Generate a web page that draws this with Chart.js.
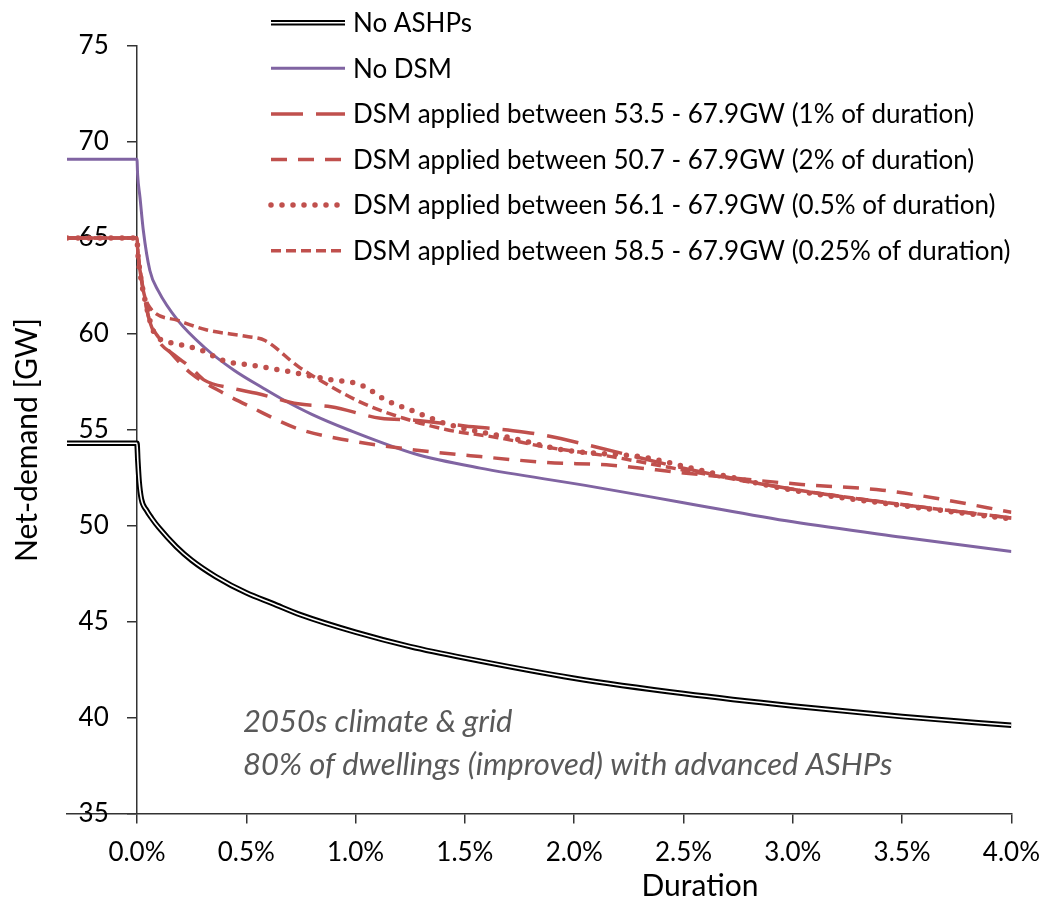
<!DOCTYPE html>
<html>
<head>
<meta charset="utf-8">
<script src="https://cdn.jsdelivr.net/npm/chart.js@4.4.1/dist/chart.umd.min.js"></script>
<style>
  html, body { margin: 0; padding: 0; background: #fff; }
</style>
</head>
<body>
<canvas id="chartCanvas" width="1054" height="904"></canvas>
<script>
// duration in % of the year, net-demand in GW
const xTicks = [0, 0.5, 1.0, 1.5, 2.0, 2.5, 3.0, 3.5, 4.0];

const noAshpDur = [-0.32, 0, 0.004, 0.01, 0.02, 0.044, 0.07, 0.1, 0.18, 0.25, 0.36, 0.5, 0.62, 0.75, 1.0, 1.25, 1.5, 2.0, 2.5, 3.0, 3.5, 4.0];
const noAshpGW  = [54.3, 54.3, 53.4, 52.3, 51.4, 50.8, 50.35, 49.9, 48.9, 48.2, 47.35, 46.5, 45.95, 45.35, 44.45, 43.7, 43.1, 42.05, 41.25, 40.6, 40.05, 39.6];

const noDsmDur = [-0.32, 0, 0.003, 0.014, 0.029, 0.059, 0.097, 0.187, 0.308, 0.444, 0.58, 0.663, 0.8, 0.966, 1.27, 1.57, 2.05, 2.5, 3.0, 3.5, 4.0];
const noDsmGW  = [69.1, 69.1, 68.3, 67.1, 65.4, 63.3, 62.25, 60.7, 59.3, 58.1, 57.15, 56.6, 55.8, 55.0, 53.75, 53.0, 52.1, 51.2, 50.2, 49.4, 48.65];

const dsm1Dur = [-0.32, 0, 0.004, 0.014, 0.036, 0.05, 0.095, 0.17, 0.246, 0.306, 0.442, 0.547, 0.737, 0.887, 1.114, 1.27, 1.5, 1.72, 1.87, 2.1, 2.5, 3.0, 3.5, 4.0];
const dsm1GW  = [65, 65, 64.3, 63.3, 61.9, 61.0, 59.7, 58.9, 58.25, 57.6, 57.15, 56.9, 56.35, 56.2, 55.6, 55.5, 55.2, 54.95, 54.7, 54.1, 53.0, 51.9, 51.1, 50.4];

const dsm2Dur = [-0.32, 0, 0.004, 0.014, 0.036, 0.06, 0.1, 0.157, 0.246, 0.397, 0.518, 0.737, 0.964, 1.27, 1.57, 1.87, 2.17, 2.5, 3.04, 3.41, 3.67, 4.0];
const dsm2GW  = [65, 65, 64.3, 63.3, 61.8, 60.6, 59.8, 58.98, 57.95, 56.9, 56.2, 55.05, 54.45, 53.95, 53.6, 53.3, 53.15, 52.75, 52.15, 51.85, 51.4, 50.7];

const dsm05Dur = [-0.32, 0, 0.004, 0.014, 0.036, 0.082, 0.172, 0.293, 0.397, 0.533, 0.71, 0.887, 1.01, 1.07, 1.114, 1.176, 1.236, 1.418, 1.72, 1.95, 2.33, 2.5, 3.0, 3.5, 4.0];
const dsm05GW  = [65, 65, 64.2, 63.2, 61.8, 60.0, 59.5, 59.15, 58.6, 58.35, 58.0, 57.6, 57.4, 57.05, 56.7, 56.35, 56.1, 55.3, 54.55, 53.95, 53.55, 53.1, 51.85, 51.05, 50.35];

const dsm025Dur = [-0.32, 0, 0.004, 0.014, 0.03, 0.06, 0.187, 0.32, 0.51, 0.586, 0.737, 0.887, 1.04, 1.22, 1.418, 1.645, 1.87, 2.17, 2.5, 3.0, 3.5, 4.0];
const dsm025GW  = [65, 65, 64.3, 63.4, 62.2, 61.35, 60.7, 60.2, 59.85, 59.65, 58.3, 57.25, 56.35, 55.6, 55.0, 54.6, 54.1, 53.6, 52.9, 51.9, 51.1, 50.4];

const red = '#C0504D';
const purple = '#8064A2';

function pts(xs, ys) {
    return xs.map((x, i) => ({ x: x, y: ys[i] }));
}

let base = {
    pointRadius: 0,
    fill: false,
    cubicInterpolationMode: 'monotone',
    yAxisID: 'y'
};

let datasets = [
    { ...base, label: 'No ASHPs', data: pts(noAshpDur, noAshpGW), borderColor: '#000', borderWidth: 5.5, order: 7, inner: '#fff' },
    { ...base, label: '', data: pts(noAshpDur, noAshpGW), borderColor: '#fff', borderWidth: 1.6, order: 6, overlay: true },
    { ...base, label: 'No DSM', data: pts(noDsmDur, noDsmGW), borderColor: purple, borderWidth: 3, order: 5 },
    { ...base, label: 'DSM applied between 53.5 - 67.9GW (1% of duration)', data: pts(dsm1Dur, dsm1GW), borderColor: red, borderWidth: 3.5, borderDash: [32, 13], order: 4 },
    { ...base, label: 'DSM applied between 50.7 - 67.9GW (2% of duration)', data: pts(dsm2Dur, dsm2GW), borderColor: red, borderWidth: 3.5, borderDash: [16, 11], order: 3 },
    { ...base, label: 'DSM applied between 56.1 - 67.9GW (0.5% of duration)', data: pts(dsm05Dur, dsm05GW), borderColor: red, borderWidth: 5.5, borderDash: [0, 11], borderCapStyle: 'round', order: 2 },
    { ...base, label: 'DSM applied between 58.5 - 67.9GW (0.25% of duration)', data: pts(dsm025Dur, dsm025GW), borderColor: red, borderWidth: 3.5, borderDash: [10, 5], order: 1 }
];

// legend, axis titles and the note are drawn here
const extras = {
    id: 'extras',
    afterDraw(chart) {
        const ctx = chart.ctx;
        ctx.save();
        let rows = chart.data.datasets.filter(d => !d.overlay);
        rows.forEach((d, i) => {
            let y = 22.7 + i * 45.6;
            ctx.beginPath();
            ctx.moveTo(271, y);
            ctx.lineTo(345, y);
            ctx.setLineDash(d.borderDash || []);
            ctx.lineCap = d.borderCapStyle || 'butt';
            ctx.lineWidth = d.borderWidth;
            ctx.strokeStyle = d.borderColor;
            ctx.stroke();
            if (d.inner) {
                ctx.lineWidth = 1.6;
                ctx.strokeStyle = d.inner;
                ctx.stroke();
            }
            ctx.setLineDash([]);
            ctx.fillStyle = '#000';
            ctx.font = '26px Lato';
            ctx.textAlign = 'left';
            ctx.textBaseline = 'middle';
            ctx.fillText(d.label, 353, y + 1);
        });

        ctx.font = '30px Lato';
        ctx.fillStyle = '#000';
        ctx.textAlign = 'center';
        ctx.textBaseline = 'middle';
        ctx.fillText('Duration', 700, 886);

        ctx.save();
        ctx.translate(27, 440);
        ctx.rotate(-Math.PI / 2);
        ctx.fillText('Net-demand [GW]', 0, 0);
        ctx.restore();

        ctx.font = 'italic 31px Lato';
        ctx.fillStyle = '#595959';
        ctx.textAlign = 'left';
        ctx.fillText('2050s climate & grid', 243, 722);
        ctx.fillText('80% of dwellings (improved) with advanced ASHPs', 243, 765);
        ctx.restore();
    }
};

const axisColor = '#333';
const tickFont = { family: 'Lato', size: 26 };

new Chart('chartCanvas', {
    type: 'line',
    data: { datasets: datasets },
    options: {
        responsive: false,
        animation: false,
        devicePixelRatio: 1,
        layout: { padding: { left: 67, right: 35, top: 46, bottom: 0 } },
        plugins: {
            legend: { display: false },
            tooltip: { enabled: false }
        },
        scales: {
            x: {
                type: 'linear',
                position: 'bottom',
                min: -0.32,
                max: 4.0,
                afterBuildTicks: (scale) => { scale.ticks = xTicks.map(v => ({ value: v })); },
                afterFit: (scale) => { scale.height = 90.5; },
                ticks: {
                    color: '#000',
                    font: tickFont,
                    padding: 14,
                    maxRotation: 0,
                    callback: (v) => v.toFixed(1) + '%'
                },
                grid: { drawOnChartArea: false, drawTicks: true, tickLength: 10, color: axisColor, lineWidth: 1.5 },
                border: { display: true, color: axisColor, width: 1.5 }
            },
            y: {
                type: 'linear',
                position: { x: 0 },
                min: 35,
                max: 75,
                afterFit: (scale) => { scale.width = 0; },
                ticks: { display: false, stepSize: 5 },
                grid: { drawOnChartArea: false, drawTicks: true, tickLength: 9, color: axisColor, lineWidth: 1.5 },
                border: { display: true, color: axisColor, width: 1.5 }
            },
            yLab: {
                type: 'linear',
                axis: 'y',
                position: { x: -0.129 },
                min: 35,
                max: 75,
                afterFit: (scale) => { scale.width = 0; },
                ticks: { stepSize: 5, color: '#000', font: tickFont },
                grid: { display: false },
                border: { display: false }
            }
        }
    },
    plugins: [extras]
});
</script>
</body>
</html>
